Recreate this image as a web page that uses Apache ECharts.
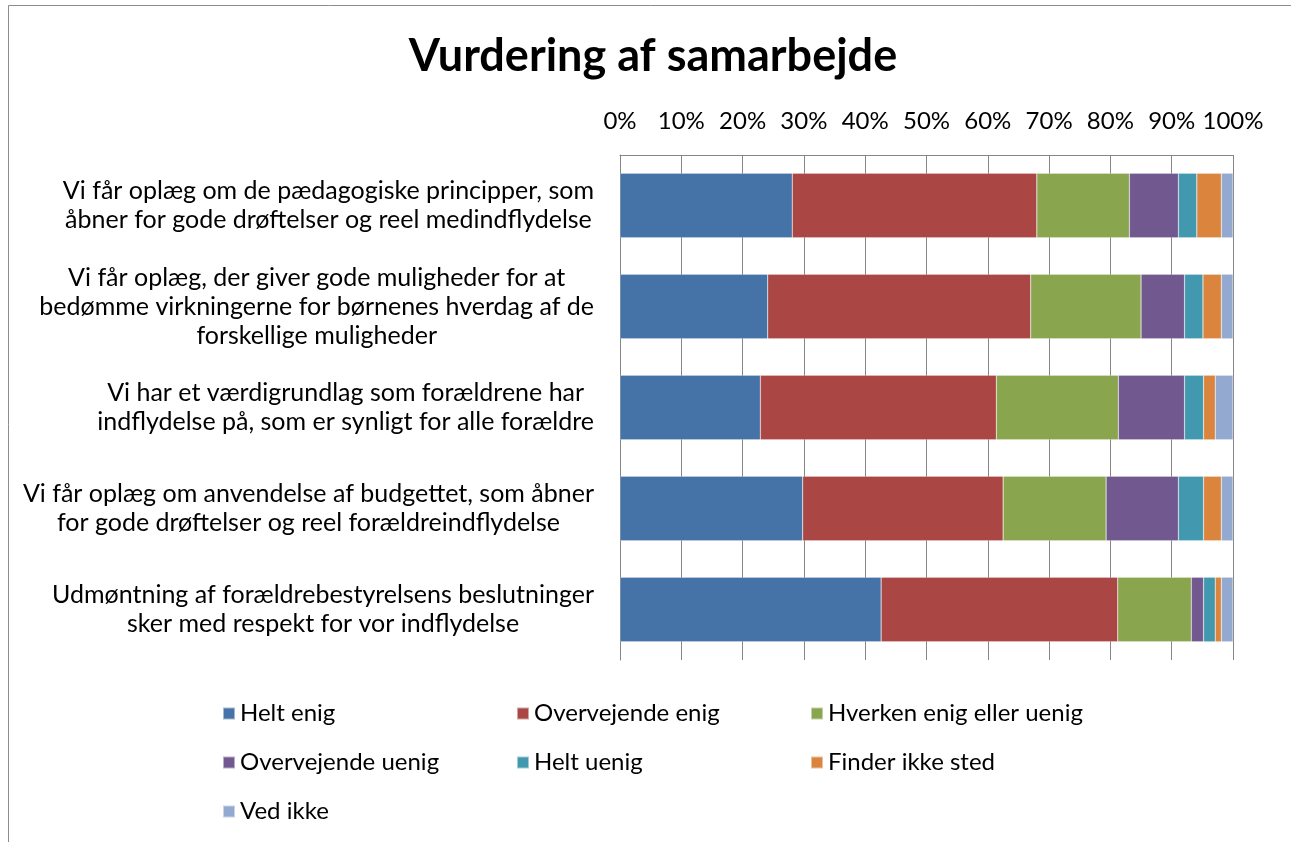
<!DOCTYPE html>
<html>
<head>
<meta charset="utf-8">
<title>Vurdering af samarbejde</title>
<script src="https://cdn.jsdelivr.net/npm/echarts@6/dist/echarts.min.js"></script>
<style>
    html, body { margin: 0; padding: 0; background: #fff; }
    #chart { width: 1291px; height: 842px; }
</style>
</head>
<body>
<div id="chart"></div>
<script>
// kategorier (ovenfra og ned)
var categories = [
    'Vi får oplæg om de pædagogiske principper, som\nåbner for gode drøftelser og reel medindflydelse',
    'Vi får oplæg, der giver gode muligheder for at\nbedømme virkningerne for børnenes hverdag af de\nforskellige muligheder',
    'Vi har et værdigrundlag som forældrene har\nindflydelse på, som er synligt for alle forældre',
    'Vi får oplæg om anvendelse af budgettet, som åbner\nfor gode drøftelser og reel forældreindflydelse',
    'Udmøntning af forældrebestyrelsens beslutninger\nsker med respekt for vor indflydelse'
];
var seriesNames = ['Helt enig', 'Overvejende enig', 'Hverken enig eller uenig', 'Overvejende uenig', 'Helt uenig', 'Finder ikke sted', 'Ved ikke'];
var tickLabels = ['0%', '10%', '20%', '30%', '40%', '50%', '60%', '70%', '80%', '90%', '100%'];

// andele i procent
var heltEnig         = [28.1, 24.1, 22.9, 29.8, 42.6];
var overvejendeEnig  = [39.9, 42.9, 38.5, 32.7, 38.6];
var hverken          = [15.1, 18.0, 19.9, 16.8, 12.0];
var overvejendeUenig = [8.0, 7.1, 10.8, 11.8, 2.0];
var heltUenig        = [3.0, 3.0, 3.1, 4.1, 1.9];
var finderIkkeSted   = [4.0, 3.0, 1.9, 2.9, 1.0];
var vedIkke          = [1.9, 1.9, 2.9, 1.9, 1.9];

var values = [heltEnig, overvejendeEnig, hverken, overvejendeUenig, heltUenig, finderIkkeSted, vedIkke];
var colors = ['#4572A7', '#AA4643', '#89A54E', '#71588F', '#4198AF', '#DB843D', '#93A9CF'];

var font = 'Lato';
var chart = echarts.init(document.getElementById('chart'));

var series = [];
for (var i = 0; i < seriesNames.length; i++) {
    series.push({
        name: seriesNames[i],
        type: 'bar',
        stack: 'total',
        barCategoryGap: '36%',
        itemStyle: { color: colors[i], borderColor: 'rgba(255,255,255,0.5)', borderWidth: 0.5 },
        data: values[i]
    });
}

var option = {
    animation: false,
    color: colors,
    title: {
        text: 'Vurdering af samarbejde',
        left: 648,
        textAlign: 'center',
        top: 29,
        textStyle: { fontFamily: font, fontWeight: 'bold', fontSize: 45, color: '#000' }
    },
    graphic: [{
        type: 'rect',
        shape: { x: 8.5, y: 5.5, width: 2000, height: 2000 },
        style: { fill: 'none', stroke: '#8c8c8c', lineWidth: 1 },
        silent: true
    }],
    legend: {
        data: seriesNames,
        left: 217,
        top: 694,
        width: 900,
        icon: 'rect',
        itemWidth: 12,
        itemHeight: 12,
        itemGap: 20,
        textStyle: { fontFamily: font, fontSize: 24, color: '#000', width: 256, lineHeight: 29 }
    },
    grid: { left: 620, right: 58, top: 155, bottom: 182 },
    xAxis: {
        type: 'value',
        position: 'top',
        min: 0,
        max: 100,
        interval: 10,
        axisLine: { show: true, lineStyle: { color: '#868686' } },
        axisTick: { show: false },
        splitLine: { show: true, lineStyle: { color: '#868686', width: 1 } },
        axisLabel: {
            margin: 22,
            fontFamily: font,
            fontSize: 24,
            color: '#000',
            formatter: function (v) { return tickLabels[Math.round(v / 10)]; }
        }
    },
    yAxis: {
        type: 'category',
        inverse: true,
        data: categories,
        axisLine: { show: true, lineStyle: { color: '#868686' } },
        axisTick: { show: false },
        axisLabel: {
            margin: 26,
            color: '#000',
            fontFamily: font,
            fontSize: 25,
            lineHeight: 29,
            formatter: function (v) {
                return v.split('\n').map(function (l) { return '{c|' + l + '}'; }).join('\n');
            },
            rich: {
                c: { align: 'center', fontFamily: font, fontSize: 25, lineHeight: 29, color: '#000' }
            }
        }
    },
    series: series
};
chart.setOption(option);
</script>
</body>
</html>
